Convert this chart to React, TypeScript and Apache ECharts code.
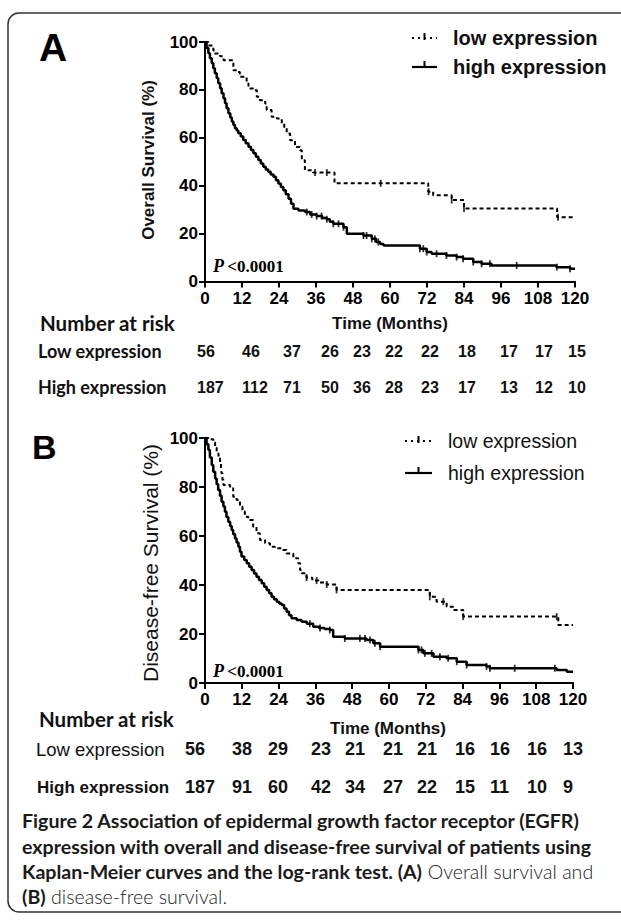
import React, { useEffect, useRef } from "react";
import * as echarts from "echarts";

// ---------- data ----------
const TIME_MAX = 120;
const TIME_STEP = 12;

// Overall survival (panel A), [month, survival %], step functions
const OS_LOW: number[][] = [
  [0, 100], [1.1, 98.5], [2.7, 96.5], [3.2, 95.2], [4.9, 94], [6, 92.4], [9.2, 88.2], [10.3, 87.5],
  [11.3, 85.5], [13.5, 82.7], [14.1, 80.6], [15.7, 79.9], [16.8, 77.1], [17.8, 75.7], [19.5, 74.3],
  [20, 71.6], [21.6, 68.8], [23.3, 68.1], [24.9, 66], [25.7, 64], [26.5, 61.8], [27.6, 59], [29.2, 56.2],
  [30.8, 54.8], [31.4, 50.6], [32.4, 46.4], [35, 45.5], [42, 41], [72.4, 37.5], [74, 36], [80, 34],
  [84, 30.5], [114.2, 26.8], [120, 26.8],
];
const OS_HIGH: number[][] = [
  [0, 100], [0.5, 97.5], [1.1, 95.3], [1.6, 93.2], [2.2, 91.1], [2.7, 89], [3.2, 87], [3.8, 85],
  [4.3, 82.8], [4.9, 80.7], [5.4, 78.6], [6, 76.5], [6.5, 74.4], [7, 72.3], [7.6, 70.3], [8.2, 68.5],
  [8.7, 66.8], [9.2, 65.4], [9.7, 64], [10.3, 63], [10.8, 61.9], [11.6, 60.5], [12.4, 59.1], [13.2, 57.7],
  [14.1, 56.3], [14.9, 54.9], [15.7, 53.5], [16.5, 52.1], [17.3, 50.7], [18.1, 49.3], [18.9, 47.9],
  [19.7, 46.8], [20.5, 45.8], [21.3, 44.7], [22.2, 43.7], [23, 42.3], [23.8, 40.9], [24.6, 39.5],
  [25.4, 38.1], [26.2, 36.4], [27.1, 34.6], [27.9, 32.5], [28.7, 30.4], [30.3, 29.6], [32.5, 29],
  [34.1, 28], [36.2, 27.3], [38, 26.5], [39.5, 26], [40.5, 25], [41.6, 24.1], [44.9, 22.7], [46, 19.9],
  [51.4, 19.2], [54.1, 17.8], [55.5, 16.5], [56.8, 15.7], [57.9, 15], [69.7, 13.7], [71.9, 12.3],
  [73.5, 11.6], [78.3, 10.9], [81.6, 10.2], [83.7, 9.5], [87, 8.1], [89.7, 7.4], [92.9, 6.7], [114, 6],
  [118.4, 5.3], [120, 5.3],
];
// Disease-free survival (panel B)
const DFS_LOW: number[][] = [
  [0, 100], [1.1, 99.5], [2.7, 98.2], [3.3, 96], [3.8, 93.7], [4.4, 91.7], [4.9, 89.7], [5.2, 87.5],
  [5.4, 85.6], [5.7, 83], [6, 80.8], [8.2, 79.5], [9.2, 76], [10.3, 74.7], [11.4, 72], [12.2, 70],
  [13, 67.9], [14.1, 66.5], [15.7, 63.8], [16.8, 61.1], [17.9, 58.4], [19.6, 57], [21.2, 55.6],
  [22.8, 55], [25, 54.3], [26.6, 52.9], [28.8, 50.9], [30.4, 48.9], [31, 46.1], [31.5, 44.8],
  [33.1, 43], [35, 41.8], [37, 41], [39.7, 40.2], [42.9, 38], [73.3, 35.2], [75.5, 33.2], [78.8, 31.1],
  [80.9, 29.8], [84.2, 27.1], [115.2, 23.7], [120, 23.7],
];
const DFS_HIGH: number[][] = [
  [0, 100], [0.5, 97.5], [1.1, 95.1], [1.6, 92], [2.2, 89], [2.7, 86.2], [3.3, 83.5], [3.8, 81.1],
  [4.3, 78.8], [4.9, 76.4], [5.4, 74], [6, 72], [6.5, 69.9], [7, 67.8], [7.6, 65.8], [8.2, 64.1],
  [8.7, 62.4], [9.2, 60.7], [9.8, 59], [10.3, 57.3], [10.9, 55.6], [11.4, 53.6], [11.9, 51.6],
  [12.8, 50.2], [13.6, 48.9], [14.4, 47.5], [15.2, 46.1], [16, 44.7], [16.8, 43.4], [17.6, 42],
  [18.5, 40.7], [19.3, 39.3], [20.1, 38], [20.9, 36.6], [21.7, 35.2], [22.5, 34.2], [23.4, 33.2],
  [24.2, 32.5], [25, 31.8], [25.8, 30.4], [26.6, 29.1], [27.4, 27.7], [28.2, 26.4], [29.9, 25.7],
  [31.5, 25], [33.2, 24.2], [35.3, 23], [37.2, 22.5], [39, 22], [40.7, 21.6], [41.8, 18.9], [45.6, 18.2],
  [52.7, 17.6], [54.9, 16.2], [57.1, 14.8], [69.6, 13.5], [71.2, 12.1], [74.5, 10.7], [78.8, 10.1],
  [82.1, 8.7], [85.3, 7.3], [91.8, 6.7], [92.9, 6], [114.7, 5.3], [118, 4.6], [120, 4.6],
];

// censored observation times
const OS_LOW_CENS = [35.7, 39.5, 57, 72.5, 80, 84, 114.5];
const OS_HIGH_CENS = [33, 34.6, 36.2, 37.8, 39.5, 41.6, 43.3, 44.9, 51.4, 52.4, 54.1, 55.1, 56.2, 69.7,
  70.8, 71.9, 75.1, 78.3, 81.6, 83.7, 87, 89.7, 92.4, 101.1, 114.1, 118.4];
const DFS_LOW_CENS = [33.1, 36.4, 39.7, 42.9, 73.3, 77.7, 84.2, 114.7];
const DFS_HIGH_CENS = [34.2, 37.5, 40.7, 45.6, 50.5, 52.2, 53.8, 55.4, 57.1, 69.6, 70.6, 71.7, 73.9,
  76.6, 79.3, 82.1, 85.3, 91.8, 92.9, 101, 114.1];

// numbers at risk
const RISK_A_LOW = [56, 46, 37, 26, 23, 22, 22, 18, 17, 17, 15];
const RISK_A_HIGH = [187, 112, 71, 50, 36, 28, 23, 17, 13, 12, 10];
const RISK_B_LOW = [56, 38, 29, 23, 21, 21, 21, 16, 16, 16, 13];
const RISK_B_HIGH = [187, 91, 60, 42, 34, 27, 22, 15, 11, 10, 9];

// layout (left edges of risk-table columns)
const RISK_A_X = [197, 242, 283, 321, 353, 385, 421, 458, 500, 535, 568];
const RISK_B_X = [185, 232, 268, 311, 345, 383, 417, 455, 490, 527, 563];

const ARIAL = '"Liberation Sans", Arial, sans-serif';
const CAL = 'Lato, "Open Sans", sans-serif';
const SERIF = '"Liberation Serif", "Times New Roman", serif';

function survAt(curve: number[][], t: number): number {
  let s = curve[0][1];
  for (const [ti, si] of curve) {
    if (ti <= t) s = si;
    else break;
  }
  return s;
}

function axisPair(gridIndex: number) {
  const common = {
    gridIndex,
    type: "value" as const,
    axisLine: { show: true, onZero: false, lineStyle: { color: "#000", width: 2 } },
    axisTick: { show: true, length: 6, lineStyle: { color: "#000", width: 2 } },
    splitLine: { show: false },
    axisLabel: { color: "#000", fontFamily: ARIAL, fontWeight: "bold" as const, fontSize: 17 },
  };
  return {
    x: { ...common, min: 0, max: TIME_MAX, interval: TIME_STEP, axisLabel: { ...common.axisLabel, margin: 8 } },
    y: { ...common, min: 0, max: 100, interval: 20, axisLabel: { ...common.axisLabel, margin: 7 } },
  };
}

function txt(text: string, x: number, y: number, font: any, extra: any = {}) {
  return {
    type: "text",
    x,
    y,
    silent: true,
    ...extra,
    style: {
      text,
      fill: "#111",
      align: "left",
      verticalAlign: "middle",
      ...font,
      ...(extra.style || {}),
    },
  };
}

export default function App() {
  const ref = useRef<HTMLDivElement>(null);

  useEffect(() => {
    if (!ref.current) return;
    const chart = echarts.init(ref.current, undefined, { renderer: "svg" });
    const a = axisPair(0);
    const b = axisPair(1);

    const lowLine = { color: "#000", width: 2, type: [4, 3] as any };
    const highLine = { color: "#000", width: 2.5 };
    const cens = (curve: number[][], times: number[], xi: number) => ({
      type: "scatter",
      xAxisIndex: xi,
      yAxisIndex: xi,
      symbol: "rect",
      symbolSize: [1.8, 7],
      itemStyle: { color: "#000" },
      silent: true,
      data: times.map((t) => [t, survAt(curve, t)]),
    });
    const km = (data: number[][], xi: number, lineStyle: any) => ({
      type: "line",
      step: "end",
      xAxisIndex: xi,
      yAxisIndex: xi,
      showSymbol: false,
      silent: true,
      lineStyle,
      data,
    });

    const graphic: any[] = [];
    // frame
    graphic.push({
      type: "rect",
      shape: { x: 8, y: 13, width: 720, height: 899, r: 11 },
      style: { fill: "none", stroke: "#333", lineWidth: 1.5 },
      silent: true,
    });
    // panel letters
    graphic.push(txt("A", 39, 47, { fontFamily: ARIAL, fontWeight: "bold", fontSize: 39, fill: "#000" }));
    graphic.push(txt("B", 32, 447, { fontFamily: ARIAL, fontWeight: "bold", fontSize: 34, fill: "#000" }));

    // legends
    const legend = (x1: number, x2: number, yLow: number, yHigh: number, tx: number, font: any) => {
      const mid = (x1 + x2) / 2;
      graphic.push({
        type: "line",
        shape: { x1, y1: yLow, x2, y2: yLow },
        style: { stroke: "#000", lineWidth: 2, lineDash: [2, 4] },
        silent: true,
      });
      graphic.push({
        type: "line",
        shape: { x1: mid, y1: yLow - 5, x2: mid, y2: yLow + 2 },
        style: { stroke: "#000", lineWidth: 2 },
        silent: true,
      });
      graphic.push({
        type: "line",
        shape: { x1, y1: yHigh, x2, y2: yHigh },
        style: { stroke: "#000", lineWidth: 2.2 },
        silent: true,
      });
      graphic.push({
        type: "line",
        shape: { x1: mid, y1: yHigh - 6, x2: mid, y2: yHigh },
        style: { stroke: "#000", lineWidth: 2 },
        silent: true,
      });
      graphic.push(txt("low expression", tx, yLow, font));
      graphic.push(txt("high expression", tx, yHigh, font));
    };
    legend(412, 437, 38, 67, 453, { fontFamily: ARIAL, fontWeight: "bold", fontSize: 20 });
    legend(405, 432, 441, 473, 448, { fontFamily: ARIAL, fontWeight: "normal", fontSize: 19.5 });

    // y titles
    graphic.push(txt("Overall Survival (%)", 148, 160, { fontFamily: ARIAL, fontWeight: "bold", fontSize: 17, align: "center" }, { rotation: Math.PI / 2 }));
    graphic.push(txt("Disease-free Survival (%)", 150, 563, { fontFamily: ARIAL, fontWeight: "normal", fontSize: 21, align: "center" }, { rotation: Math.PI / 2 }));

    // P values
    const pFont = {
      text: "{i|P} {b|<0.0001}",
      rich: {
        i: { fontFamily: SERIF, fontStyle: "italic", fontWeight: "bold", fontSize: 18, fill: "#000" },
        b: { fontFamily: SERIF, fontWeight: "bold", fontSize: 17, fill: "#000" },
      },
    };
    graphic.push({ type: "text", x: 213, y: 266, silent: true, style: { ...pFont, verticalAlign: "middle" } });
    graphic.push({ type: "text", x: 213, y: 671, silent: true, style: { ...pFont, verticalAlign: "middle" } });

    // x titles
    graphic.push(txt("Time (Months)", 390, 323, { fontFamily: ARIAL, fontWeight: "bold", fontSize: 17, align: "center" }));
    graphic.push(txt("Time (Months)", 388, 728, { fontFamily: ARIAL, fontWeight: "bold", fontSize: 17, align: "center" }));

    // risk tables
    graphic.push(txt("Number at risk", 40, 323, { fontFamily: CAL, fontWeight: "bold", fontSize: 20.5 }));
    graphic.push(txt("Low expression", 38, 351, { fontFamily: CAL, fontWeight: "bold", fontSize: 18 }));
    graphic.push(txt("High expression", 38, 387, { fontFamily: CAL, fontWeight: "bold", fontSize: 18 }));
    RISK_A_LOW.forEach((v, i) => graphic.push(txt(String(v), RISK_A_X[i], 351, { fontFamily: ARIAL, fontWeight: "bold", fontSize: 16 })));
    RISK_A_HIGH.forEach((v, i) => graphic.push(txt(String(v), RISK_A_X[i], 387, { fontFamily: ARIAL, fontWeight: "bold", fontSize: 16 })));

    graphic.push(txt("Number at risk", 39, 719, { fontFamily: CAL, fontWeight: "bold", fontSize: 20.5 }));
    graphic.push(txt("Low expression", 36, 749, { fontFamily: ARIAL, fontWeight: "normal", fontSize: 18.5 }));
    graphic.push(txt("High expression", 37, 787, { fontFamily: ARIAL, fontWeight: "bold", fontSize: 17 }));
    RISK_B_LOW.forEach((v, i) => graphic.push(txt(String(v), RISK_B_X[i], 749, { fontFamily: ARIAL, fontWeight: "bold", fontSize: 18 })));
    RISK_B_HIGH.forEach((v, i) => graphic.push(txt(String(v), RISK_B_X[i], 787, { fontFamily: ARIAL, fontWeight: "bold", fontSize: 18 })));

    // caption
    const capRich = {
      b: { fontFamily: CAL, fontWeight: "bold", fontSize: 19.6, fill: "#1a1a1a" },
      n: { fontFamily: CAL, fontWeight: 300, fontSize: 19.6, fill: "#222" },
    };
    const capLines = [
      "{b|Figure 2 Association of epidermal growth factor receptor (EGFR)}",
      "{b|expression with overall and disease-free survival of patients using}",
      "{b|Kaplan-Meier curves and the log-rank test. (A)}{n| Overall survival and}",
      "{b|(B)}{n| disease-free survival.}",
    ];
    const capY = [820, 846, 871, 896];
    capLines.forEach((l, i) =>
      graphic.push({ type: "text", x: 22, y: capY[i], silent: true, style: { text: l, rich: capRich, verticalAlign: "middle" } })
    );

    chart.setOption({
      animation: false,
      backgroundColor: "#fff",
      grid: [
        { left: 205, top: 42, width: 370, height: 239.5 },
        { left: 205, top: 438, width: 368, height: 245 },
      ],
      xAxis: [a.x, b.x],
      yAxis: [a.y, b.y],
      series: [
        km(OS_LOW, 0, lowLine),
        km(OS_HIGH, 0, highLine),
        cens(OS_LOW, OS_LOW_CENS, 0),
        cens(OS_HIGH, OS_HIGH_CENS, 0),
        km(DFS_LOW, 1, lowLine),
        km(DFS_HIGH, 1, highLine),
        cens(DFS_LOW, DFS_LOW_CENS, 1),
        cens(DFS_HIGH, DFS_HIGH_CENS, 1),
      ],
      graphic,
    });
    return () => chart.dispose();
  }, []);

  return <div ref={ref} style={{ position: "absolute", left: 0, top: 0, width: 621, height: 921 }} />;
}
